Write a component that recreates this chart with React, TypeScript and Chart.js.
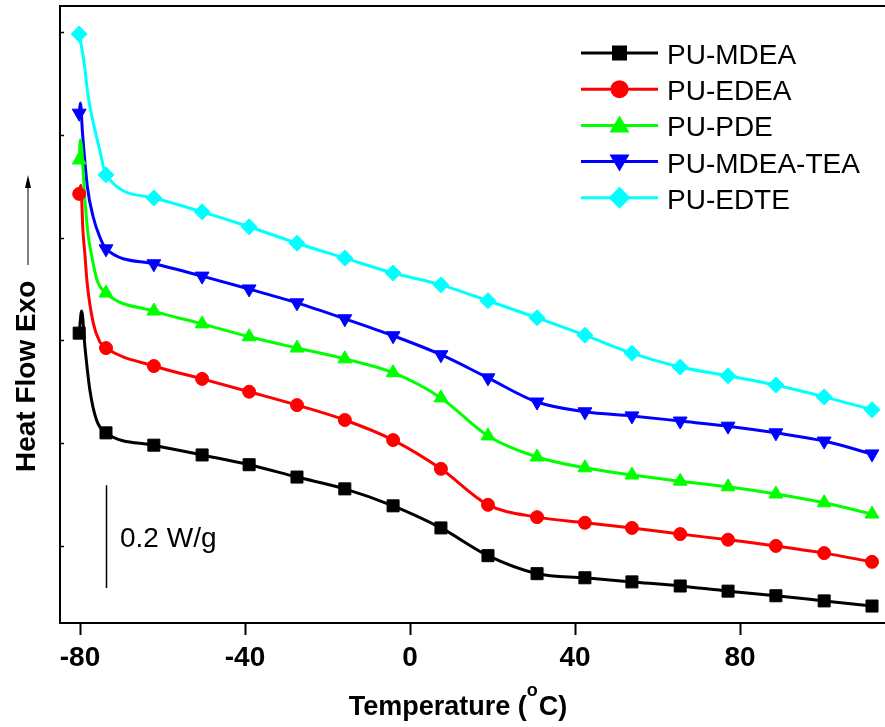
import React, { useEffect, useRef } from 'react';
import { Chart, registerables } from 'chart.js';
Chart.register(...registerables);

const FONT = '"Liberation Sans", Arial, Helvetica, sans-serif';

const seriesNames = ['PU-MDEA', 'PU-EDEA', 'PU-PDE', 'PU-MDEA-TEA', 'PU-EDTE'];
const seriesColors = ['#000000', '#ff0000', '#00ff00', '#0000ff', '#00ffff'];
const xTicks = [-80, -40, 0, 40, 80];
const yTicks = [0.2, 0.4, 0.6, 0.8, 1.0, 1.2];

// temperatures (°C) of the plotted markers
const markerTemps = [-80.2, -73.7, -62.1, -50.4, -39.0, -27.4, -15.8, -4.1, 7.5, 18.9, 30.8, 42.4, 53.8, 65.5, 77.1, 88.7, 100.4, 112.0];

// heat flow (W/g, offset) at marker temperatures
const mdeaValues = [0.614, 0.420, 0.396, 0.377, 0.358, 0.334, 0.311, 0.278, 0.235, 0.181, 0.146, 0.138, 0.130, 0.122, 0.112, 0.103, 0.093, 0.083];
const edeaValues = [0.885, 0.585, 0.550, 0.525, 0.500, 0.474, 0.445, 0.406, 0.350, 0.280, 0.256, 0.245, 0.235, 0.223, 0.212, 0.200, 0.186, 0.169];
const pdeValues = [0.951, 0.692, 0.657, 0.632, 0.607, 0.585, 0.564, 0.537, 0.488, 0.414, 0.373, 0.352, 0.338, 0.326, 0.315, 0.301, 0.284, 0.262];
const mdeaTeaValues = [1.042, 0.778, 0.749, 0.725, 0.700, 0.673, 0.642, 0.609, 0.572, 0.527, 0.480, 0.461, 0.453, 0.443, 0.433, 0.420, 0.404, 0.379];
const edteValues = [1.196, 0.922, 0.877, 0.850, 0.821, 0.789, 0.760, 0.731, 0.708, 0.677, 0.644, 0.610, 0.575, 0.548, 0.531, 0.513, 0.490, 0.465];

// extra curve points in the initial transient (between first and second marker)
const mdeaStartT = [-79.6, -78.8, -77.6, -76.0];
const mdeaStartV = [0.657, 0.587, 0.503, 0.445];
const edeaStartT = [-79.8, -79.3, -78.8, -78.3, -76.8, -75.2];
const edeaStartV = [0.902, 0.815, 0.766, 0.714, 0.634, 0.597];
const pdeStartT = [-79.9, -78.8, -78.1, -77.2, -75.9];
const pdeStartV = [0.990, 0.873, 0.809, 0.766, 0.718];
const mdeaTeaStartT = [-79.9, -79.4, -78.2, -76.8, -75.2];
const mdeaTeaStartV = [1.062, 1.004, 0.898, 0.840, 0.801];
const edteStartT = [-79.0, -78.0, -75.2];
const edteStartV = [1.140, 1.074, 0.970];

const scaleBarTemp = -73.8;
const scaleBarFrom = 0.118;
const scaleBarSize = 0.2;

const markerStyles = ['rect', 'circle', 'triangle', 'triangle', 'rectRot'];
const markerRotations = [0, 0, 0, 180, 0];
const markerRadii = [8.5, 6.5, 8, 8, 8];

function buildSeries(values: number[], startT: number[], startV: number[]) {
  const pts: { x: number; y: number }[] = [{ x: markerTemps[0], y: values[0] }];
  const isMarker: boolean[] = [true];
  startT.forEach((t, i) => {
    pts.push({ x: t, y: startV[i] });
    isMarker.push(false);
  });
  for (let i = 1; i < markerTemps.length; i++) {
    pts.push({ x: markerTemps[i], y: values[i] });
    isMarker.push(true);
  }
  return { pts, isMarker };
}

function drawMarker(ctx: CanvasRenderingContext2D, kind: number, x: number, y: number, color: string) {
  ctx.save();
  ctx.fillStyle = color;
  ctx.beginPath();
  if (kind === 0) {
    ctx.rect(x - 7.5, y - 7.5, 15, 15);
  } else if (kind === 1) {
    ctx.arc(x, y, 9, 0, Math.PI * 2);
  } else if (kind === 2) {
    ctx.moveTo(x, y - 10);
    ctx.lineTo(x + 10, y + 7);
    ctx.lineTo(x - 10, y + 7);
    ctx.closePath();
  } else if (kind === 3) {
    ctx.moveTo(x, y + 10);
    ctx.lineTo(x + 10, y - 7);
    ctx.lineTo(x - 10, y - 7);
    ctx.closePath();
  } else {
    ctx.moveTo(x, y - 11);
    ctx.lineTo(x + 11, y);
    ctx.lineTo(x, y + 11);
    ctx.lineTo(x - 11, y);
    ctx.closePath();
  }
  ctx.fill();
  ctx.restore();
}

const decorPlugin = {
  id: 'decor',
  afterDraw(chart: any) {
    const ctx: CanvasRenderingContext2D = chart.ctx;
    const area = chart.chartArea;
    const xs = chart.scales.x;
    const ys = chart.scales.y;
    ctx.save();
    // frame: left and top
    ctx.strokeStyle = '#000';
    ctx.lineWidth = 2;
    ctx.beginPath();
    ctx.moveTo(area.left, area.bottom);
    ctx.lineTo(area.left, area.top);
    ctx.lineTo(area.right, area.top);
    ctx.stroke();
    // inward y ticks
    ctx.lineWidth = 1.5;
    yTicks.forEach((v) => {
      const py = Math.round(ys.getPixelForValue(v)) + 0.5;
      ctx.beginPath();
      ctx.moveTo(area.left, py);
      ctx.lineTo(area.left + 4, py);
      ctx.stroke();
    });

    // y title
    ctx.fillStyle = '#000';
    ctx.save();
    ctx.translate(35, 472);
    ctx.rotate(-Math.PI / 2);
    ctx.font = `bold 28px ${FONT}`;
    ctx.textAlign = 'left';
    ctx.textBaseline = 'alphabetic';
    ctx.fillText('Heat Flow Exo', 0, 0);
    ctx.restore();
    // arrow
    ctx.lineWidth = 1;
    ctx.beginPath();
    ctx.moveTo(28, 265);
    ctx.lineTo(28, 184);
    ctx.stroke();
    ctx.beginPath();
    ctx.moveTo(28, 175);
    ctx.lineTo(31, 188);
    ctx.lineTo(25, 188);
    ctx.closePath();
    ctx.fill();

    // x title with superscript
    const t1 = 'Temperature (';
    const t2 = 'o';
    const t3 = 'C)';
    const big = `bold 27px ${FONT}`;
    const small = `bold 18px ${FONT}`;
    ctx.font = big;
    const w1 = ctx.measureText(t1).width;
    const w3 = ctx.measureText(t3).width;
    ctx.font = small;
    const w2 = ctx.measureText(t2).width;
    const total = w1 + w2 + w3 + 1;
    let sx = 458 - total / 2;
    const base = 715;
    ctx.textAlign = 'left';
    ctx.textBaseline = 'alphabetic';
    ctx.font = big;
    ctx.fillText(t1, sx, base);
    sx += w1;
    ctx.font = small;
    ctx.fillText(t2, sx, base - 19);
    sx += w2 + 1;
    ctx.font = big;
    ctx.fillText(t3, sx, base);

    // scale bar
    const bx = Math.round(xs.getPixelForValue(scaleBarTemp)) + 0.5;
    ctx.lineWidth = 1.5;
    ctx.beginPath();
    ctx.moveTo(bx, ys.getPixelForValue(scaleBarFrom));
    ctx.lineTo(bx, ys.getPixelForValue(scaleBarFrom + scaleBarSize));
    ctx.stroke();
    ctx.font = `28px ${FONT}`;
    ctx.fillText('0.2 W/g', 120, 547);

    // legend
    seriesNames.forEach((name, i) => {
      const cy = 53 + i * 36.2;
      ctx.strokeStyle = seriesColors[i];
      ctx.lineWidth = 3;
      ctx.beginPath();
      ctx.moveTo(581, cy);
      ctx.lineTo(658, cy);
      ctx.stroke();
      drawMarker(ctx, i, 619.5, cy, seriesColors[i]);
      ctx.fillStyle = '#000';
      ctx.font = `28px ${FONT}`;
      ctx.fillText(name, 667, cy + 11);
    });
    ctx.restore();
  },
};

export default function App() {
  const canvasRef = useRef<HTMLCanvasElement | null>(null);

  useEffect(() => {
    document.body.style.margin = '0';
    const canvas = canvasRef.current;
    if (!canvas) return;
    const all = [
      buildSeries(mdeaValues, mdeaStartT, mdeaStartV),
      buildSeries(edeaValues, edeaStartT, edeaStartV),
      buildSeries(pdeValues, pdeStartT, pdeStartV),
      buildSeries(mdeaTeaValues, mdeaTeaStartT, mdeaTeaStartV),
      buildSeries(edteValues, edteStartT, edteStartV),
    ];
    const datasets = all.map((s, i) => ({
      label: seriesNames[i],
      data: s.pts,
      borderColor: seriesColors[i],
      backgroundColor: seriesColors[i],
      borderWidth: 3,
      pointRadius: s.isMarker.map((m) => (m ? markerRadii[i] : 0)),
      pointHoverRadius: 0,
      pointStyle: markerStyles[i],
      pointRotation: markerRotations[i],
      pointBackgroundColor: seriesColors[i],
      pointBorderColor: seriesColors[i],
      pointBorderWidth: 1,
      cubicInterpolationMode: 'monotone',
      fill: false,
      clip: false,
    }));

    const chart = new Chart(canvas, {
      type: 'line',
      data: { datasets } as any,
      options: {
        animation: false,
        responsive: true,
        maintainAspectRatio: false,
        events: [],
        layout: { autoPadding: false, padding: { left: 60, top: 6, right: 0, bottom: 0 } },
        plugins: { legend: { display: false }, tooltip: { enabled: false } },
        scales: {
          x: {
            type: 'linear',
            min: -84.85,
            max: 115.15,
            afterBuildTicks: (s: any) => {
              s.ticks = xTicks.map((v) => ({ value: v }));
            },
            afterFit: (s: any) => {
              s.height = 104;
              s.paddingLeft = 0;
              s.paddingRight = 0;
            },
            grid: { display: true, drawOnChartArea: false, drawTicks: true, tickLength: 12, tickWidth: 2, color: '#000' },
            border: { display: true, width: 2, color: '#000' },
            ticks: {
              color: '#000',
              font: { family: FONT, size: 28, weight: 'bold' },
              padding: 6,
              maxRotation: 0,
              autoSkip: false,
              callback: (v: any) => String(v),
            },
          },
          y: { type: 'linear', display: false, min: 0.05, max: 1.2506 },
        },
      } as any,
      plugins: [decorPlugin],
    });
    return () => chart.destroy();
  }, []);

  return (
    <div style={{ position: 'fixed', left: 0, top: 0, width: 885, height: 727 }}>
      <canvas ref={canvasRef} />
    </div>
  );
}
